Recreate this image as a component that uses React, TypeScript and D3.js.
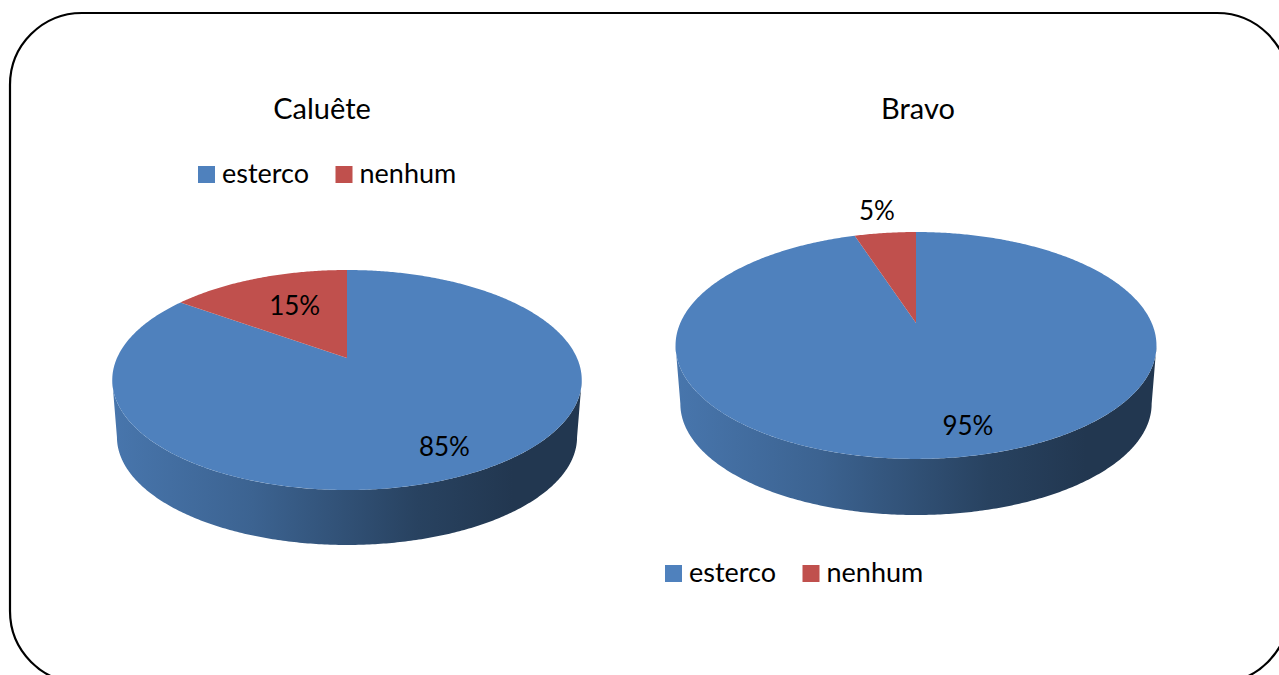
import React from "react";
import * as d3 from "d3";

const categories = ["esterco", "nenhum"];
const chartTitles = ["Caluête", "Bravo"];
const caluete = [85, 15];
const bravo = [95, 5];
const seriesValues = [caluete, bravo];
const colors = ["#4f81bd", "#c0504d"];

const W = 1279;
const H = 675;
const FONT = "Lato, 'Open Sans', 'Noto Sans', sans-serif";

type Layout = {
  cx: number; cy: number; A: number; B: number; k: number; depth: number; baseScale: number;
  titleX: number; titleY: number; legendX: number; legendY: number;
  labelR: number[]; labelDx: number[]; labelDy: number[];
};

const layouts: Layout[] = [
  { cx: 347, cy: 358, A: 230, B: 105.6, k: 0.2, depth: 57.6, baseScale: 0.98,
    titleX: 322, titleY: 119, legendX: 198, legendY: 174,
    labelR: [0.8, 0.55], labelDx: [0, 0], labelDy: [0, -6] },
  { cx: 916, cy: 323, A: 235.7, B: 109, k: 0.198, depth: 58.8, baseScale: 0.98,
    titleX: 918, titleY: 119, legendX: 665, legendY: 573,
    labelR: [0.8, 1.25], labelDx: [17, -2], labelDy: [0, -5] },
];

function proj(L: Layout, theta: number, r: number, base: boolean): [number, number] {
  const u = r * Math.sin(theta);
  const v = r * Math.cos(theta);
  const d = 1 + L.k * v;
  const s = base ? L.baseScale : 1;
  return [L.cx + (s * L.A * u) / d, L.cy + (base ? L.depth : 0) - (s * L.B * v) / d];
}

function arcPoints(L: Layout, a0: number, a1: number, base: boolean): [number, number][] {
  const n = Math.max(8, Math.ceil(Math.abs(a1 - a0) / 0.01));
  const pts: [number, number][] = [];
  for (let i = 0; i <= n; i++) {
    const t = a0 + ((a1 - a0) * i) / n;
    pts.push(proj(L, t, 1, base));
  }
  return pts;
}

const line = d3.line<[number, number]>();
const pieGen = d3.pie<number>().sort(null).value((d) => d);

function Pie3D({ values, L, idx, title }: { values: number[]; L: Layout; idx: number; title: string }) {
  const arcs = pieGen(values);
  const total = d3.sum(values);
  const thetaR = Math.acos(-L.k);
  const thetaL = 2 * Math.PI - Math.acos(-L.k);
  const gx1 = L.cx - L.A * 1.03;
  const gx2 = L.cx + L.A * 1.03;

  return (
    <g>
      <defs>
        {colors.map((c, i) => {
          const col = d3.color(c)!;
          return (
            <linearGradient key={i} id={`side-${idx}-${i}`} gradientUnits="userSpaceOnUse" x1={gx1} x2={gx2} y1={0} y2={0}>
              <stop offset="0" stopColor={col.darker(0.25).formatHex()} />
              <stop offset="0.3" stopColor={col.darker(0.75).formatHex()} />
              <stop offset="0.65" stopColor={col.darker(1.9).formatHex()} />
              <stop offset="0.85" stopColor={col.darker(2.4).formatHex()} />
              <stop offset="1" stopColor={col.darker(2.4).formatHex()} />
            </linearGradient>
          );
        })}
      </defs>
      {arcs.map((a, i) => {
        const a0 = Math.max(a.startAngle, thetaR);
        const a1 = Math.min(a.endAngle, thetaL);
        if (a1 <= a0) return null;
        const top = arcPoints(L, a0, a1, false);
        const bottom = arcPoints(L, a1, a0, true);
        return <path key={`s${i}`} d={line([...top, ...bottom])! + "Z"} fill={`url(#side-${idx}-${i})`} />;
      })}
      {arcs.map((a, i) => {
        const center = proj(L, 0, 0, false);
        const pts = [center, ...arcPoints(L, a.startAngle, a.endAngle, false)];
        return <path key={`t${i}`} d={line(pts)! + "Z"} fill={colors[i]} />;
      })}
      {arcs.map((a, i) => {
        const mid = (a.startAngle + a.endAngle) / 2;
        const [x, y] = proj(L, mid, L.labelR[i], false);
        return (
          <text key={`l${i}`} x={x + L.labelDx[i]} y={y + L.labelDy[i]} textAnchor="middle" dominantBaseline="central"
            fontFamily={FONT} fontSize={26} fill="#000">
            {`${Math.round((a.value / total) * 100)}%`}
          </text>
        );
      })}
      <text x={L.titleX} y={L.titleY} textAnchor="middle" fontFamily={FONT} fontSize={29} fill="#000">
        {title}
      </text>
      {categories.map((c, i) => (
        <g key={c} transform={`translate(${L.legendX + i * 137.5},${L.legendY})`}>
          <rect x={0} y={-8} width={17} height={17} fill={colors[i]} />
          <text x={24} y={8.5} fontFamily={FONT} fontSize={27} fill="#000">{c}</text>
        </g>
      ))}
    </g>
  );
}

export default function App() {
  return (
    <svg width={W} height={H} style={{ position: "absolute", left: 0, top: 0, background: "#fff" }}>
      <rect x={0} y={0} width={W} height={H} fill="#fff" />
      <rect x={10} y={13} width={1279} height={670} rx={72} ry={72} fill="#fff" stroke="#000" strokeWidth={2.2} />
      {seriesValues.map((v, i) => (
        <Pie3D key={i} values={v} L={layouts[i]} idx={i} title={chartTitles[i]} />
      ))}
    </svg>
  );
}
